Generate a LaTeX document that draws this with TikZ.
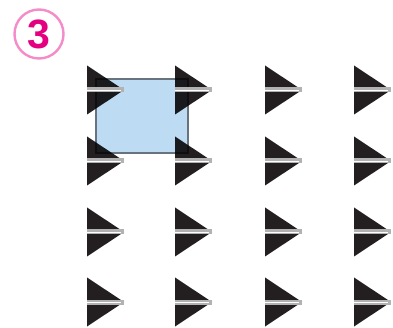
\documentclass[tikz,border=0pt]{standalone}
\usepackage{fontspec}
\setsansfont{Liberation Sans}
\definecolor{inkk}{RGB}{35,31,32}
\definecolor{cellb}{RGB}{189,220,243}
\definecolor{celld}{RGB}{105,115,125}
\definecolor{numc}{RGB}{228,0,127}
\definecolor{ringc}{RGB}{243,140,200}
\newcommand{\MW}{37}
\newcommand{\MH}{24.5}
% a play mark (body, then its rule): left edge x, centre y
\newcommand{\playbody}[2]{%
  \fill[inkk] (#1,{#2-\MH}) -- ({#1+\MW},#2) -- (#1,{#2+\MH}) -- cycle;}
\newcommand{\playrule}[2]{%
  \draw[line width=5pt, gray!60] (#1,#2) -- ({#1+\MW},#2);
  \draw[line width=1.8pt, white] (#1,{#2+0.5}) -- ({#1+\MW-3},{#2+0.5});}

\begin{document}
\begin{tikzpicture}[x=1pt, y=-1pt,
    ring/.style={circle, draw=ringc, line width=2.4pt, minimum size=49pt, inner sep=0pt,
                 text=numc, font=\sffamily\bfseries\fontsize{41}{41}\selectfont},
    cell/.style={draw=celld, fill=cellb, line width=2.6pt},
  ]
  \useasboundingbox (0,0) rectangle (393,328);

  \node[ring] (num) at (39,34) {3};

  % the selected cell, under the marks
  \draw[cell] (96,79) rectangle (188,153);

  %% ================= the grid of marks =================
  \begin{scope}[blend mode=multiply]
    \foreach \y in {90,161,232,302} {
      \foreach \x in {87,175,265,354} { \playbody{\x}{\y} }
    }
  \end{scope}
  \foreach \y in {90,161,232,302} {
    \foreach \x in {87,175,265,354} { \playrule{\x}{\y} }
  }

\end{tikzpicture}
\end{document}
